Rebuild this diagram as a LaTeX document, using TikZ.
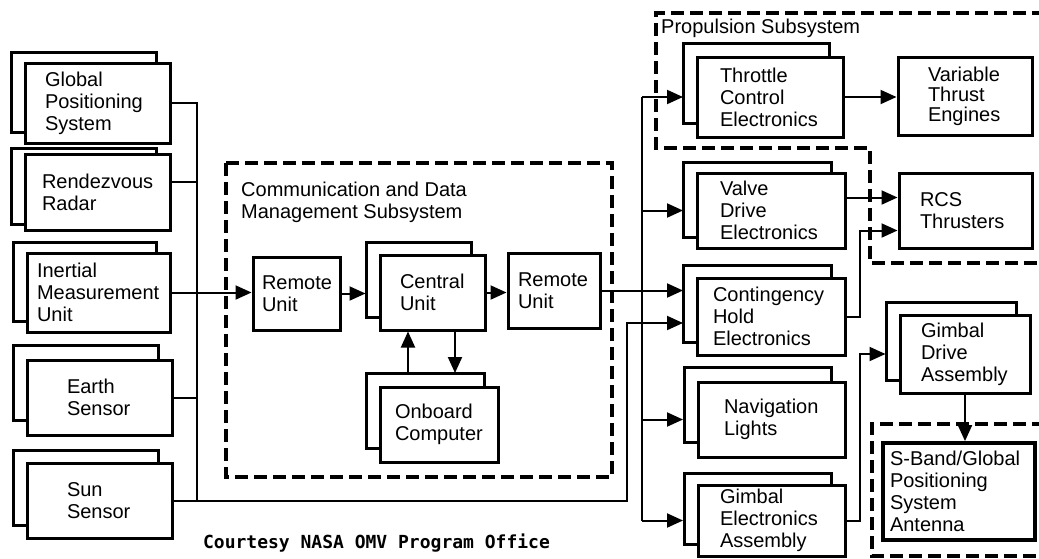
\documentclass[tikz,border=0pt]{standalone}
\usepackage{fontspec}
\setmainfont{Liberation Sans}
\newfontfamily\capfont{DejaVu Sans Mono}
\usetikzlibrary{arrows.meta,shadows,positioning}

\begin{document}
\begin{tikzpicture}[x=1pt, y=-1pt, font=\fontsize{20}{22}\selectfont,
        unit/.style={draw, fill=white, line width=3pt, align=left, inner ysep=0pt},
        stacked/.style={copy shadow={shadow xshift=-14pt, shadow yshift=#1, draw=black, fill=white, line width=3pt}},
        stacked/.default=13pt,
        wire/.style={line width=2pt},
        feed/.style={wire, -{Triangle[length=16pt, width=14pt]}},
        subsys/.style={dash pattern=on 13pt off 6pt, line width=3.4pt}]
                \useasboundingbox (0,0) rectangle (1039,558);
                \draw[subsys] (226,163) rectangle (612,477);
                \node[anchor=west, align=left, inner sep=0pt] (cdms) at (241,202) {Communication and Data\\Management Subsystem};
                \draw[subsys] (1045,13) -- (656,13) -- (656,148) -- (870,148) -- (870,263) -- (1045,263);
                \node[anchor=west, inner sep=0pt] (prop) at (661,28) {Propulsion Subsystem};
                \draw[subsys] (1045,424) -- (872,424) -- (872,556) -- (1045,556);
                \node[unit, stacked=11pt, minimum height=80pt, text width=105pt, inner xsep=20pt] (gps) at (97.5,103) {Global\\Positioning\\System};
                \node[unit, stacked=6pt, minimum height=76pt, text width=111pt, inner xsep=17pt] (rr) at (97.5,192) {Rendezvous\\Radar};
                \node[unit, stacked=11pt, minimum height=79pt, text width=123pt, inner xsep=10pt] (imu) at (98.5,292.5) {Inertial\\Measurement\\Unit};
                \node[unit, stacked=15pt, minimum height=75pt, text width=65pt, inner xsep=40pt] (earth) at (99.5,397.5) {Earth\\Sensor};
                \node[unit, stacked, minimum height=75pt, text width=65pt, inner xsep=40pt] (sun) at (99.5,500.5) {Sun\\Sensor};
                \node[unit, minimum height=73pt, text width=69pt, inner xsep=9pt] (rem1) at (296.5,293.5) {Remote\\Unit};
                \node[unit, stacked, minimum height=75pt, text width=65pt, inner xsep=20pt] (central) at (432.5,292.5) {Central\\Unit};
                \node[unit, minimum height=75pt, text width=72pt, inner xsep=10pt] (rem2) at (554,290.5) {Remote\\Unit};
                \node[unit, stacked=14pt, minimum height=75pt, text width=88pt, inner xsep=15pt] (obc) at (439,424.5) {Onboard\\Computer};
                \node[unit, stacked=14pt, minimum height=80pt, text width=100pt, inner xsep=23pt] (throttle) at (770,97) {Throttle\\Control\\Electronics};
                \node[unit, minimum height=78pt, text width=74pt, inner xsep=30pt, font=\fontsize{20}{20}\selectfont] (vte) at (965,96) {Variable\\Thrust\\Engines};
                \node[unit, stacked=11pt, minimum height=75pt, text width=102pt, inner xsep=23pt] (valve) at (771,210.5) {Valve\\Drive\\Electronics};
                \node[unit, minimum height=75pt, text width=91pt, inner xsep=21pt] (rcs) at (965.5,210.5) {RCS\\Thrusters};
                \node[unit, stacked, minimum height=77pt, text width=116pt, inner xsep=16pt] (chold) at (771,316.5) {Contingency\\Hold\\Electronics};
                \node[unit, stacked=15pt, minimum height=75pt, text width=95pt, inner xsep=26pt] (nav) at (771.5,419.5) {Navigation\\Lights};
                \node[unit, stacked=12pt, minimum height=71pt, text width=103pt, inner xsep=22pt] (gea) at (771.5,520.5) {Gimbal\\Electronics\\Assembly};
                \node[unit, stacked, minimum height=78pt, text width=88pt, inner xsep=21pt] (gda) at (965,354) {Gimbal\\Drive\\Assembly};
                \node[unit, line width=3.8pt, minimum height=97pt, text width=138pt, inner xsep=7pt] (sband) at (959,491.5) {S-Band/Global\\Positioning\\System\\Antenna};
                \node[font={\capfont\bfseries\fontsize{18}{18}\selectfont}] (credit) at (376.5,543) {Courtesy NASA OMV Program Office};
                \coordinate (lbtop) at (197,103);
                \coordinate (rbtop) at (642,97);
                \coordinate (rcol) at (683,0);
                \coordinate (sunr) at (627,323);
                \coordinate (cback) at ([xshift=-13pt]central.west);
                \coordinate (obctop) at (439,373);
                \coordinate (up) at (408,373);
                \coordinate (dn) at (455,330);
                \draw[wire] (gps.east) -- (lbtop) -- (lbtop |- sun.east);
                \draw[wire] ([yshift=10pt]rr.east) coordinate (rro) -- (rro -| lbtop);
                \draw[wire] (earth.east) -- (earth.east -| lbtop);
                \draw[feed] (imu.east) -- (imu.east -| rem1.west);
                \draw[feed] (sun.east) -| (sunr) -- (sunr -| rcol);
                \draw[feed] (rem1.east) -- (rem1.east -| cback);
                \draw[feed] (central.east) -- (central.east -| rem2.west);
                \draw[feed] (dn |- central.south) -- (dn |- obctop);
                \draw[feed] (up) -- (up |- central.south);
                \draw[feed] (rem2.east) -- (rem2.east -| rcol);
                \draw[wire] (rbtop) -- (rbtop |- gea);
                \draw[feed] (rbtop) -- (rbtop -| rcol);
                \draw[feed] (rbtop |- valve) -- (rcol |- valve);
                \draw[feed] (rbtop |- nav) -- (rcol |- nav);
                \draw[feed] (rbtop |- gea) -- (rcol |- gea);
                \draw[feed] (throttle.east) -- (throttle.east -| vte.west);
                \draw[feed] ([yshift=13pt]valve.east) coordinate (vo) -- (vo -| rcs.west);
                \draw[feed] (chold.east) -- ++(13,0) |- ([yshift=-20pt]rcs.west);
                \draw[feed] (gea.east) -- ++(13,0) |- ([xshift=-13pt]gda.west);
                \draw[feed] (gda.south) -- (gda.south |- sband.north);
            \end{tikzpicture}
\end{document}
